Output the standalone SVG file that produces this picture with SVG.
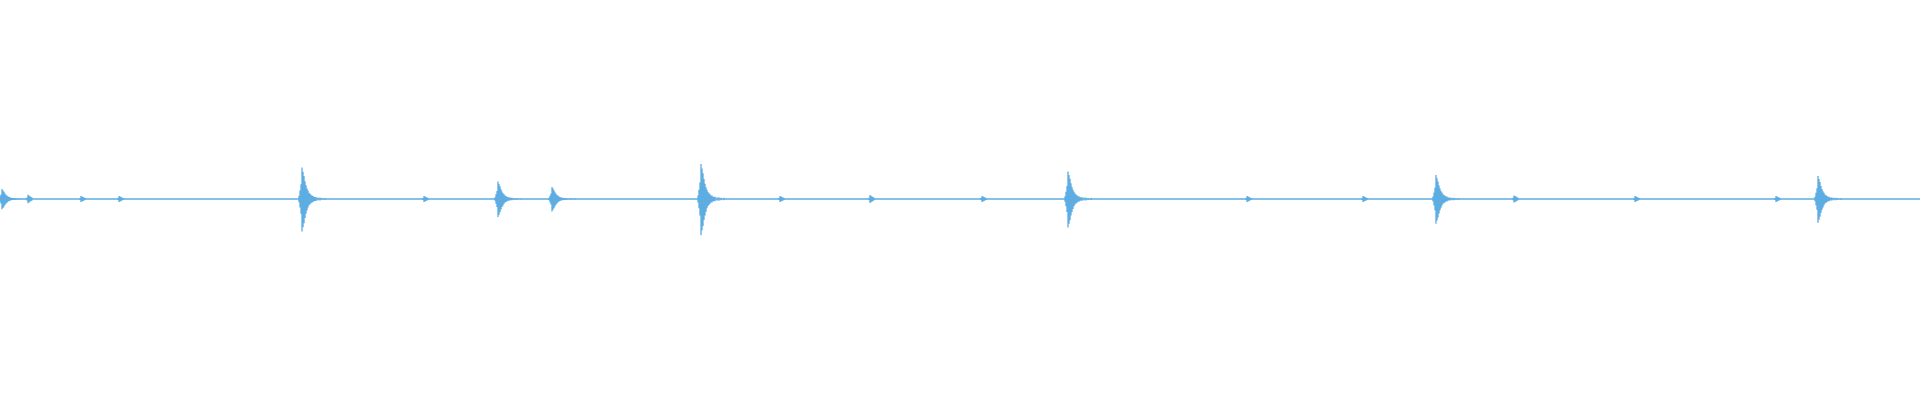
<svg xmlns="http://www.w3.org/2000/svg" xmlns:xlink="http://www.w3.org/1999/xlink" width="1920" height="400" viewBox="0 0 1920 400">
<style>.w{stroke:#5dade2;stroke-width:1.3;fill:none}</style>
<defs>
<path id="spike" class="w" d="M-3,-3V3M-2,-8V8M-1,-14V14M0,-30V31M1,-26V27M2,-22V23M3,-17V18M4,-13V14M5,-10V11M6,-8V8M7,-6V6M8,-5V5M9,-4V4M10,-3V3M11,-3V3M12,-2V2M13,-2V2M14,-2V2M16,-1.5V1.5M18,-1.5V1.5M20,-1V1M23,-1V1"/>
<path id="blip" class="w" d="M-1,-1V1M0,-3V3M1,-2.5V2.5M2,-2V2M3,-1.5V1.5M4,-1V1"/>
</defs>
<rect width="1920" height="400" fill="#ffffff"/>
<g id="waveform">
<line class="w" x1="0" y1="199" x2="1920" y2="199"/>
<use xlink:href="#spike" transform="translate(2,199) scale(1,0.33)"/>
<use xlink:href="#spike" transform="translate(302,199) scale(1,1.05)"/>
<use xlink:href="#spike" transform="translate(498,199) scale(1,0.58)"/>
<use xlink:href="#spike" transform="translate(552,199) scale(1,0.4)"/>
<use xlink:href="#spike" transform="translate(701,199) scale(1,1.17)"/>
<use xlink:href="#spike" transform="translate(1068,199) scale(1,0.92)"/>
<use xlink:href="#spike" transform="translate(1436,199) scale(1,0.8)"/>
<use xlink:href="#spike" transform="translate(1818,199) scale(1,0.77)"/>
<use xlink:href="#blip" transform="translate(28,199) scale(1,1.4)"/>
<use xlink:href="#blip" transform="translate(81,199)"/>
<use xlink:href="#blip" transform="translate(119,199)"/>
<use xlink:href="#blip" transform="translate(424,199)"/>
<use xlink:href="#blip" transform="translate(780,199)"/>
<use xlink:href="#blip" transform="translate(870,199) scale(1,1.3)"/>
<use xlink:href="#blip" transform="translate(982,199)"/>
<use xlink:href="#blip" transform="translate(1247,199)"/>
<use xlink:href="#blip" transform="translate(1363,199)"/>
<use xlink:href="#blip" transform="translate(1514,199) scale(1,1.2)"/>
<use xlink:href="#blip" transform="translate(1635,199)"/>
<use xlink:href="#blip" transform="translate(1776,199)"/>
</g>
</svg>
